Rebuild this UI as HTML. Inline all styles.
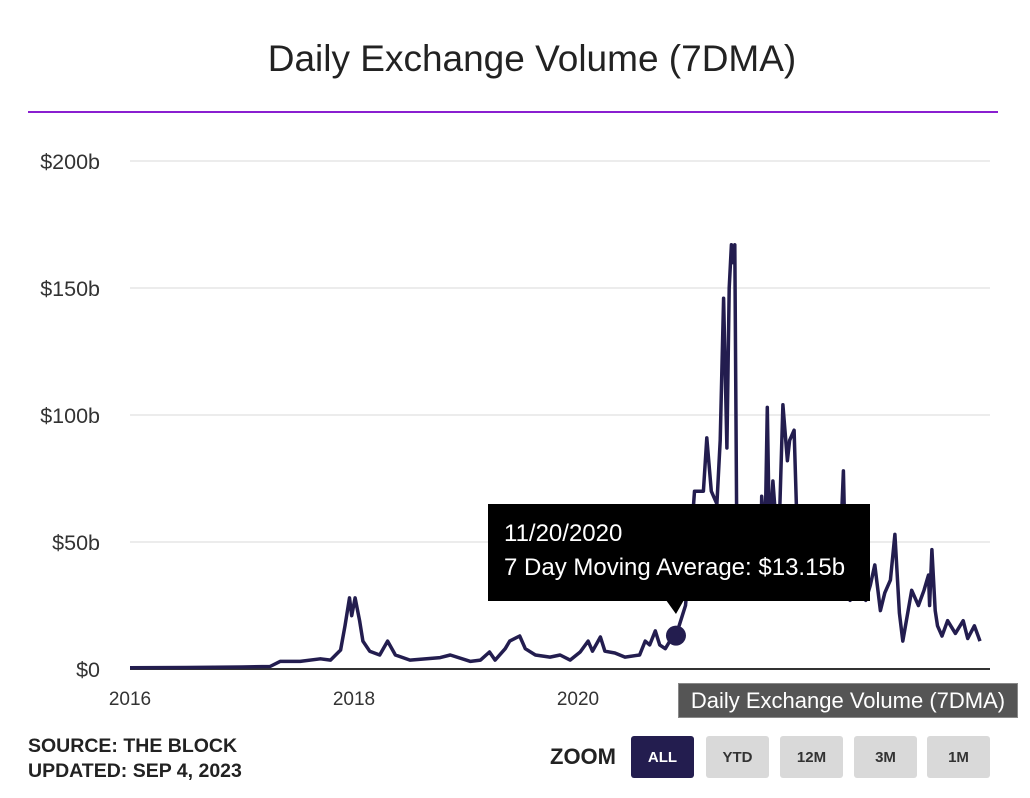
<!DOCTYPE html>
<html><head><meta charset="utf-8"><style>
body{margin:0;width:1030px;height:798px;background:#fff;font-family:"Liberation Sans",sans-serif;overflow:hidden;position:relative}
.t{position:absolute}
.btn{position:absolute;top:736px;width:63px;height:42px;border-radius:3px;background:#d9d9d9;color:#333;font-weight:bold;font-size:15px;display:flex;align-items:center;justify-content:center}
</style></head><body>
<div class="t" style="left:0;width:1064px;top:38px;text-align:center;font-size:37px;color:#222">Daily Exchange Volume (7DMA)</div>
<div class="t" style="left:28px;width:970px;top:111px;height:2px;background:#8a1fd0"></div>
<svg class="t" style="left:0;top:0" width="1030" height="798" id="svg"></svg>
<div class="t" style="left:488px;top:504px;width:382px;height:97px;background:#000;color:#fff;font-size:24px;line-height:34px;box-sizing:border-box;padding:13px 16px">11/20/2020<br>7 Day Moving Average: $13.15b</div>
<div class="t" style="left:678px;top:683px;width:340px;height:35px;background:#555;border:1px solid #888;box-sizing:border-box;color:#fff;font-size:22px;line-height:33px;text-align:center">Daily Exchange Volume (7DMA)</div>
<div class="t" style="left:28px;top:734px;font-weight:bold;font-size:19.5px;line-height:25px;color:#222">SOURCE: THE BLOCK<br>UPDATED: SEP 4, 2023</div>
<div class="t" style="left:550px;top:744px;font-weight:bold;font-size:22px;color:#222">ZOOM</div>
<div class="btn" style="left:631px;background:#231d4f;color:#fff">ALL</div>
<div class="btn" style="left:706px">YTD</div>
<div class="btn" style="left:780px">12M</div>
<div class="btn" style="left:854px">3M</div>
<div class="btn" style="left:927px">1M</div>
<script>
const yTicks=[0,50,100,150,200];
const yTickLabels=["$0","$50b","$100b","$150b","$200b"];
const xTicks=[2016,2018,2020];
const dates=[2016,2016.5,2017,2017.25,2017.34,2017.52,2017.70,2017.79,2017.88,2017.92,2017.96,2017.98,2018.01,2018.05,2018.08,2018.14,2018.23,2018.30,2018.37,2018.50,2018.77,2018.86,2019.04,2019.13,2019.21,2019.26,2019.35,2019.39,2019.48,2019.53,2019.62,2019.75,2019.84,2019.93,2020.02,2020.09,2020.13,2020.20,2020.24,2020.33,2020.42,2020.55,2020.60,2020.64,2020.69,2020.73,2020.78,2020.82,2020.875,2020.96,2021.00,2021.04,2021.12,2021.15,2021.19,2021.24,2021.27,2021.30,2021.33,2021.35,2021.37,2021.38,2021.40,2021.42,2021.49,2021.58,2021.63,2021.64,2021.67,2021.69,2021.71,2021.74,2021.79,2021.83,2021.87,2021.89,2021.93,2021.96,2022.03,2022.12,2022.21,2022.29,2022.34,2022.37,2022.39,2022.43,2022.47,2022.52,2022.57,2022.61,2022.65,2022.70,2022.74,2022.79,2022.83,2022.87,2022.90,2022.98,2023.04,2023.09,2023.13,2023.14,2023.16,2023.19,2023.21,2023.25,2023.30,2023.37,2023.44,2023.48,2023.54,2023.59,2023.63,2023.67];
const values=[0.5,0.6,0.8,1,3,3,4,3.5,7.5,17,28,21,28,19,11,7,5.5,11,5.5,3.5,4.5,5.5,3,3.5,6.7,3.5,8,11,13,8,5.5,4.7,5.5,3.5,6.7,11,7,12.6,7,6.3,4.7,5.5,11,9.5,15,9.5,8,11,13.15,25,45,70,70,91,70,65,90,146,87,150,167,160,167,40,45,42,40,68,50,103,50,74,45,104,82,90,94,50,45,40,38,42,45,78,40,27,31,37,27,33,41,23,30,35,53,22,11,31,25,31,37,25,47,23,17,13,19,14,19,12,17,11];
const svg=document.getElementById('svg');
const NS='http://www.w3.org/2000/svg';
const x0=130,x1=989,d0=2016,d1=2023.67,y0=669,ppb=2.54;
const X=d=>x0+(d-d0)/(d1-d0)*(x1-x0);
const Y=v=>y0-v*ppb;
function mk(tag,attrs){const e=document.createElementNS(NS,tag);for(const k in attrs)e.setAttribute(k,attrs[k]);svg.appendChild(e);return e;}
yTicks.forEach((t,i)=>{
 if(t>0){const g=mk('line',{x1:130,x2:990,y1:Y(t),y2:Y(t),stroke:'#e6e6e6','stroke-width':1.5});
 
 }
 const l=mk('text',{x:100,y:Y(t)+8,'text-anchor':'end','font-size':21.5,fill:'#333','font-family':'Liberation Sans, sans-serif'});
 l.textContent=yTickLabels[i];
 
 
});
xTicks.forEach(t=>{
 const l=mk('text',{x:X(t),y:705,'text-anchor':'middle','font-size':19,fill:'#333','font-family':'Liberation Sans, sans-serif'});
 l.textContent=String(t);
 
 
});
const ax=mk('line',{x1:130,x2:990,y1:669,y2:669,stroke:'#333','stroke-width':2});


const pts=dates.map((d,i)=>X(d).toFixed(1)+','+Y(values[i]).toFixed(1)).join(' ');
const pl=mk('polyline',{points:pts,fill:'none',stroke:'#231d4f','stroke-width':3.5,'stroke-linejoin':'round'});


const mi=dates.indexOf(2020.875);
const tp=mk('polygon',{points:`${X(dates[mi])-10},600 ${X(dates[mi])+8},600 ${X(dates[mi])},614`,fill:'#000'});


const mc=mk('circle',{cx:X(dates[mi]),cy:Y(values[mi]),r:10,fill:'#231d4f'});


</script>
</body></html>
